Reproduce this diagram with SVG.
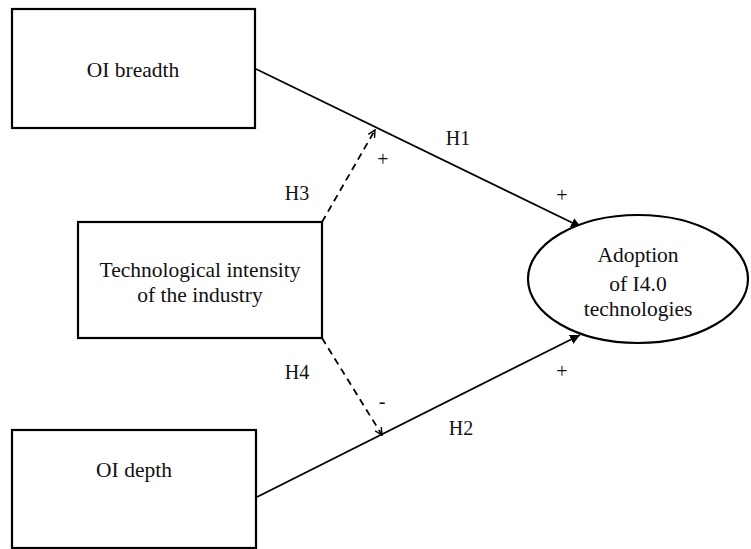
<svg xmlns="http://www.w3.org/2000/svg" width="751" height="549" viewBox="0 0 751 549">
<style>
.box{fill:#fff;stroke:#000;stroke-width:2.2}
.t{font-family:"Liberation Serif","Times New Roman",serif;font-size:21.5px;fill:#111;text-anchor:middle}
.l{font-family:"Liberation Serif","Times New Roman",serif;font-size:20px;fill:#111;text-anchor:middle}
.solid{stroke:#000;stroke-width:1.8;fill:none}
.dash{stroke:#000;stroke-width:1.8;fill:none;stroke-dasharray:7,5}
</style>
<defs>
<marker id="fill" viewBox="0 0 10 10" refX="10" refY="5" markerWidth="10" markerHeight="10" markerUnits="userSpaceOnUse" orient="auto">
<path d="M0,0 L10,5 L0,10 z" fill="#000"/>
</marker>
<marker id="open" viewBox="0 0 10 10" refX="9" refY="5" markerWidth="9" markerHeight="9" markerUnits="userSpaceOnUse" orient="auto">
<path d="M1,1 L9,5 L1,9" fill="none" stroke="#000" stroke-width="1.6"/>
</marker>
</defs>
<rect width="751" height="549" fill="#fff"/>
<g id="connectors">
<line class="solid" x1="256" y1="69" x2="581" y2="227" marker-end="url(#fill)"/>
<line class="solid" x1="257" y1="497" x2="580" y2="335" marker-end="url(#fill)"/>
<line class="dash" x1="322" y1="222" x2="375" y2="130" marker-end="url(#open)"/>
<line class="dash" x1="322" y1="338" x2="382" y2="435" marker-end="url(#open)"/>
<text class="l" x="458" y="145">H1</text>
<text class="l" x="383" y="166">+</text>
<text class="l" x="297" y="200">H3</text>
<text class="l" x="562" y="202">+</text>
<text class="l" x="297" y="379">H4</text>
<text class="l" x="382" y="408">-</text>
<text class="l" x="461" y="435">H2</text>
<text class="l" x="562" y="378">+</text>
</g>
<g id="oi-breadth">
<rect class="box" x="12" y="9" width="243" height="119"/>
<text class="t" x="133" y="77">OI breadth</text>
</g>
<g id="tech-intensity">
<rect class="box" x="78" y="222" width="244" height="116"/>
<text class="t" x="200" y="277">Technological intensity</text>
<text class="t" x="200" y="302">of the industry</text>
</g>
<g id="oi-depth">
<rect class="box" x="12" y="430" width="244" height="118"/>
<text class="t" x="134" y="477">OI depth</text>
</g>
<g id="adoption">
<ellipse cx="638" cy="279" rx="110" ry="64" fill="#fff" stroke="#000" stroke-width="2.2"/>
<text class="t" x="638" y="262">Adoption</text>
<text class="t" x="638" y="291">of I4.0</text>
<text class="t" x="638" y="316">technologies</text>
</g>
</svg>
